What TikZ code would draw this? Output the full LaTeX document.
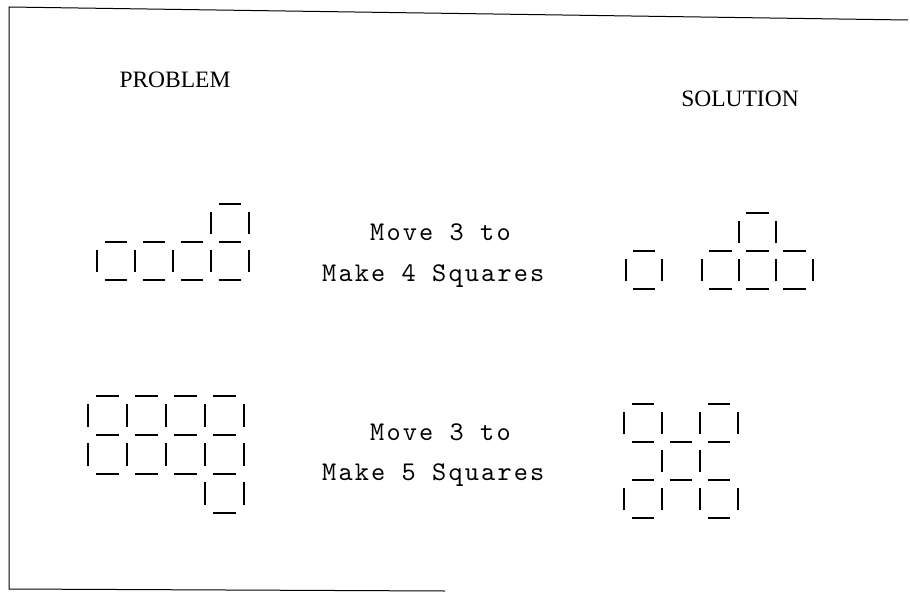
\documentclass[tikz,border=0pt]{standalone}
\usepackage{fontspec}
\setmainfont{Liberation Serif}
\newfontfamily\capfont{lmmono10-regular.otf}[LetterSpace=8]
\usepackage{tikz}
\usetikzlibrary{positioning}

% matchsticks, one cell = one unit of the scope
\tikzset{
  stick/.style={line width=2pt},
  heading/.style={font=\fontsize{23.5}{23.5}\selectfont, inner sep=0pt, anchor=base},
  caption/.style={font=\capfont\fontsize{27}{27}\selectfont,
                  inner sep=0pt, anchor=base west},
  frameline/.style={line width=1pt}
}
\newcommand{\hstick}[2]{\draw[stick] (#1+0.2,#2) -- (#1+0.8,#2);}
\newcommand{\vstick}[2]{\draw[stick] (#1,#2+0.2) -- (#1,#2+0.8);}

\begin{document}
\begin{tikzpicture}[x=1pt, y=-1pt]
        \useasboundingbox (0,0) rectangle (910,594);

        % --- frame (open on the right) ---
        \draw[frameline] (908,20) -- (9,7) -- (9,589) -- (445,591);

        % --- headings and captions ---
        \node (problem)  [heading] at (175,88)  {PROBLEM};
        \node (solution) [heading] at (740,106) {SOLUTION};

        \node (move1) [caption] at (370,240) {Move 3 to};
        \node (make1) [caption] at (322,281) {Make 4 Squares};
        \node (move2) [caption] at (370,440) {Move 3 to};
        \node (make2) [caption] at (322,480) {Make 5 Squares};

        % --- problem 1 ---
        \begin{scope}[shift={(97,280)}, x=38pt, y=38pt]
          \foreach \i in {0,...,3} {\hstick{\i}{0} \hstick{\i}{1}}
          \hstick{3}{2}
          \foreach \i in {0,...,4} {\vstick{\i}{0}}
          \foreach \i in {3,4} {\vstick{\i}{1}}
        \end{scope}

        % --- solution 1 ---
        \begin{scope}[shift={(626,289)}, x=36pt, y=38pt]
          \hstick{0}{0} \hstick{0}{1}
          \vstick{0}{0} \vstick{1}{0}
        \end{scope}
        \begin{scope}[shift={(702,289)}, x=37pt, y=38pt]
          \foreach \i in {0,...,2} {\hstick{\i}{0} \hstick{\i}{1}}
          \hstick{1}{2}
          \foreach \i in {0,...,3} {\vstick{\i}{0}}
          \foreach \i in {1,2} {\vstick{\i}{1}}
        \end{scope}

        % --- problem 2 ---
        \begin{scope}[shift={(88,513)}, x=39pt, y=39pt]
          \foreach \i in {0,...,3} {\hstick{\i}{1} \hstick{\i}{2} \hstick{\i}{3}}
          \hstick{3}{0}
          \foreach \i in {0,...,4} {\vstick{\i}{1} \vstick{\i}{2}}
          \foreach \i in {3,4} {\vstick{\i}{0}}
        \end{scope}

        % --- solution 2 ---
        \begin{scope}[shift={(624,518)}, x=38pt, y=38pt]
          \foreach \i in {0,2} {\hstick{\i}{0} \hstick{\i}{3}}
          \foreach \i in {0,...,2} {\hstick{\i}{1} \hstick{\i}{2}}
          \foreach \i in {0,...,3} {\vstick{\i}{0} \vstick{\i}{2}}
          \foreach \i in {1,2} {\vstick{\i}{1}}
        \end{scope}

\end{tikzpicture}
\end{document}
